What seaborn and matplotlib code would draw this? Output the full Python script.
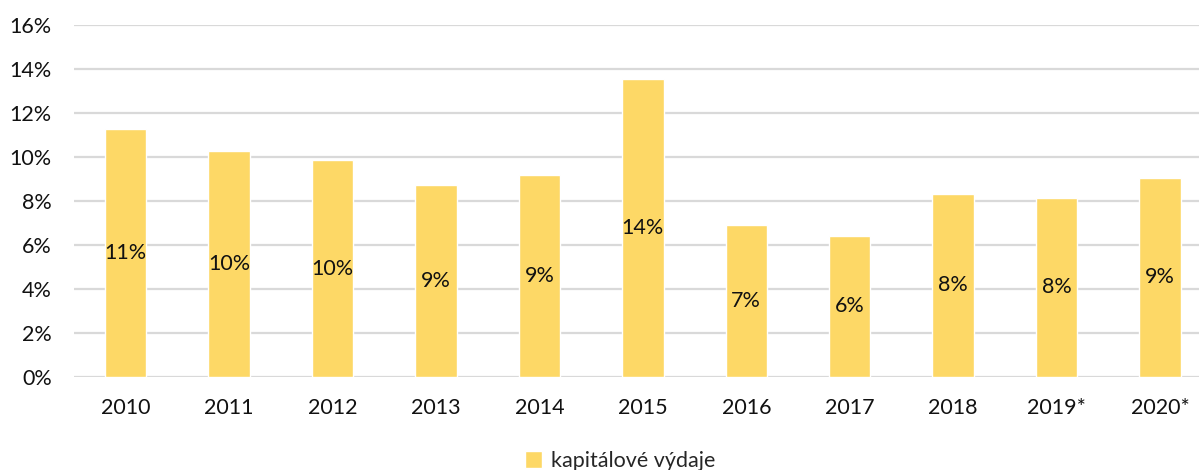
import matplotlib
matplotlib.use("Agg")
import matplotlib.pyplot as plt
import seaborn as sns
import pandas as pd
from matplotlib.ticker import PercentFormatter

years = ["2010", "2011", "2012", "2013", "2014", "2015", "2016", "2017", "2018", "2019*", "2020*"]
capex = [0.1127, 0.1027, 0.0986, 0.0873, 0.0918, 0.1355, 0.0691, 0.0641, 0.0832, 0.0814, 0.0905]
series_name = "kapitálové výdaje"

sns.set_style("white")
plt.rcParams["font.family"] = ["Lato", "DejaVu Sans"]

df = pd.DataFrame({"rok": years, "podil": capex})

fig = plt.figure(figsize=(11.99, 4.70), dpi=100)
ax = fig.add_axes([74 / 1199, 93 / 470, 1137.7 / 1199, 352 / 470])

sns.barplot(data=df, x="rok", y="podil", color="#FDD866", saturation=1,
            width=0.4, ax=ax, label=series_name, zorder=3)

ax.bar_label(ax.containers[0], labels=[f"{v:.0%}" for v in capex],
             label_type="center", fontsize=15.5, color="#111111")

ax.set_ylim(0, 0.16)
ax.set_xlim(-0.5, 10.5)
ax.set_yticks([i / 100 for i in range(0, 17, 2)])
ax.yaxis.set_major_formatter(PercentFormatter(1.0, decimals=0))
ax.grid(axis="y", color="#D9D9D9", linewidth=1.6, zorder=0)
ax.tick_params(axis="both", length=0, labelsize=15.5, colors="#111111")
ax.tick_params(axis="x", pad=15)
ax.tick_params(axis="y", pad=16)
ax.set_xlabel("")
ax.set_ylabel("")
for s in ax.spines.values():
    s.set_visible(False)

ax.legend(loc="center", bbox_to_anchor=(620 / 1199, 9 / 470),
          bbox_transform=fig.transFigure, frameon=False, fontsize=15.5,
          handlelength=0.8, handleheight=0.8, handletextpad=0.4)

fig.savefig("out.png", dpi=100)
